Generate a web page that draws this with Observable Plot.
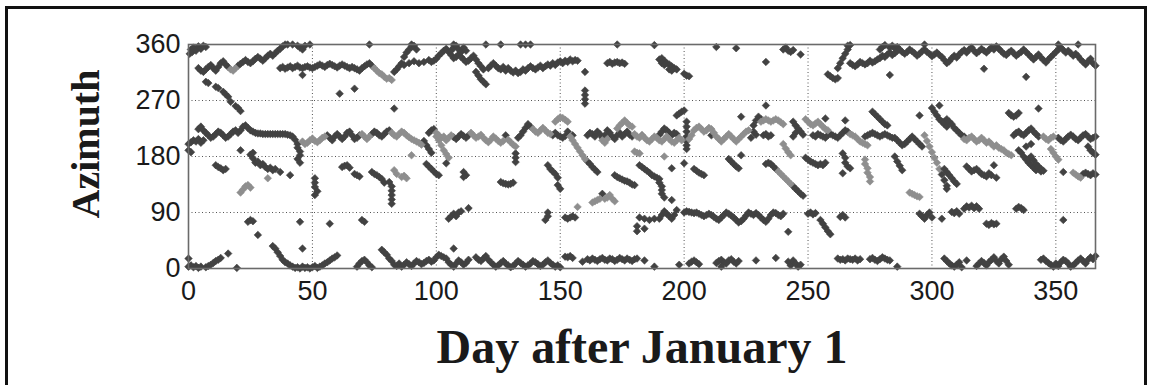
<!DOCTYPE html>
<html>
<head>
<meta charset="utf-8">
<script src="https://cdn.jsdelivr.net/npm/d3@7"></script>
<script src="https://cdn.jsdelivr.net/npm/@observablehq/plot@0.6"></script>
<style>
  html, body { margin: 0; padding: 0; background: #fff; }
  #wrap { position: relative; width: 1151px; height: 385px; overflow: hidden; }
  #border { position: absolute; left: 5px; top: 6px; width: 1142px; height: 420px; border: 3px solid #111; box-sizing: border-box; }
  #chart { position: absolute; left: 0; top: 0; }
  #ylab { position: absolute; left: 86px; top: 144px; transform: translate(-50%, -50%) rotate(-90deg);
          font: bold 40px "Liberation Serif", "Times New Roman", serif; color: #1a1a1a; line-height: 1; white-space: nowrap; }
</style>
</head>
<body>
<div id="wrap"><div id="border"></div><div id="chart"></div><div id="ylab"></div></div>
<script>
// ---- data: [day after January 1, azimuth in degrees] ----
const xTicks = [0, 50, 100, 150, 200, 250, 300, 350];
const yTicks = [0, 90, 180, 270, 360];
const xLabel = "Day after January 1";
const yLabel = "Azimuth";

const upperDark = [
  [0.5,345],[1,352],[1.5,348],[2,355],[3,350],[4,357],[5,353],[6,358],[7,356],
  [4,322],[5,318],[6,316],[7,320],[8,324],[9,327],[10,322],[11,318],[12,324],[13,330],[14,333],[15,328],[16,324],
  [20,326],[21,329],[22,332],[23,335],[24,332],[25,330],[26,333],[27,337],[28,340],[29,337],[30,334],[31,338],[32,342],[33,345],[34,342],
  [35,346],[36,350],[37,353],[38,357],[39,360],[40,360],[42,360],[44,358],[45,355],[46,352],[47,358],[49,360],
  [37,322],[38,324],[39,321],[40,323],[41,325],[42,322],[43,324],[44,326],[45,323],[46,322],[47,324],[48,325],[49,323],[50,322],
  [51,324],[52,326],[53,328],[54,326],[55,324],[56,327],[57,329],[58,327],[59,325],[60,323],[61,326],[62,328],[63,326],[64,324],
  [65,322],[66,324],[67,322],[68,320],[69,318],[70,322],[71,325],[72,328],[73,330],[74,326],[46,311],
  [7,300],[8,298],[11,292],[12,290],[14,284],[15,280],[16,276],[17,268],[19,261],[20,258],[21,253],
  [61,281],[67,289],[83,257],[73,360],[90,360],[107,360],
  [83,316],[84,320],[85,325],[86,330],[87,340],[88,347],[89,352],[90,356],[91,358],[92,352],
  [87,327],[89,330],[91,333],[93,330],[95,332],[97,335],[98,332],[99,334],[100,337],[101,342],[102,346],[103,350],[104,353],
  [105,348],[106,343],[107,338],[108,340],[109,344],[110,340],[111,336],[112,332],[113,334],[114,338],[115,342],[116,336],
  [117,330],[118,325],[119,320],[116,316],[117,310],[118,304],[119,300],[120,296],
  [106,350],[107,355],[108,358],[109,352],[110,348],[111,355],[112,350],
  [121,322],[122,326],[123,330],[124,326],[125,322],[126,320],[127,324],[128,318],[129,322],[130,318],[131,315],[132,318],
  [133,314],[134,316],[135,320],[136,318],[137,322],[138,325],[139,322],[140,320],[141,323],[142,326],[143,322],[144,325],
  [145,328],[146,326],[147,330],[148,327],[149,331],[150,333],[151,330],[152,334],[153,332],[154,336],[155,333],[156,335],[157,334],
  [120,360],[126,360],[134,360],[136,360],[138,360],
  [160,316],[169,330],[170,332],[171,329],[172,331],[173,332],[174,330],[175,331],[176,329],[173,360],
  [160,265],[160,272],[160,279],[160,286],
  [188,359],[190,336],[191,338],[192,334],[193,330],[194,328],[195,325],[196,322],[197,320],[191,330],[192,327],[194,320],[195,318],
  [200,313],[201,310],[202,309],[213,356],[221,354],[233,332],
  [240,352],[241,355],[242,350],[243,348],[244,351],[247,344],
  [258,312],[259,309],[260,306],[261,304],[262,306],[262,322],[263,330],[264,338],[265,345],[266,352],[266,358],
  [267,330],[268,327],[269,325],[270,328],[271,332],[272,330],[273,328],[274,330],[275,334],[276,331],[277,333],[278,336],
  [279,338],[280,342],[281,340],[282,344],[283,347],[284,343],[285,346],[286,350],[267,359],[279,352],[280,356],[281,359],
  [283,355],[284,358],[285,354],[286,356],[287,352],[288,348],[289,345],[290,348],[291,352],[292,349],[293,346],[294,342],
  [295,345],[296,349],[297,352],[298,348],[299,345],[300,341],[301,344],[302,347],[303,343],[304,340],[297,360],[283,311],
  [305,335],[306,330],[307,333],[308,338],[309,342],[310,339],[311,344],[312,348],[313,351],[314,347],[315,352],[316,355],
  [317,350],[318,346],[319,349],[320,353],[321,350],[322,347],[323,351],[324,355],[325,352],[326,357],[327,353],[328,349],
  [329,345],[330,343],[331,347],[332,350],[333,346],[334,342],[335,345],[336,348],[337,352],[338,348],[339,344],[340,340],
  [341,336],[342,340],[343,344],[344,339],[345,335],[346,331],[347,336],[348,340],[349,344],[350,348],[351,352],[352,355],
  [353,351],[354,347],[355,350],[356,346],[357,342],[358,345],[359,341],[360,336],[361,332],[362,328],[363,333],[364,337],
  [365,330],[366,326],[321,321],[338,308],[351,360],[359,360]
];
const upperLight = [
  [17,320],[18,318],[19,322],
  [75,322],[76,318],[77,314],[78,312],[79,308],[80,305],[81,306],[82,303]
];

const middleDark = [
  [0,200],[1,203],[2,206],[3,204],[4,208],[5,202],[6,206],[0,190],[1,187],
  [4,224],[5,228],[6,222],[7,218],[8,214],[9,210],[10,212],[11,216],[12,220],[13,218],[14,214],[15,210],[16,212],[17,216],
  [18,220],[19,222],[20,218],[21,222],[22,228],[23,230],[24,226],[25,222],[26,220],[27,218],[28,217],[29,217],[30,216],
  [31,216],[32,216],[33,216],[34,216],[35,216],[36,216],[37,216],[38,216],[39,216],[40,215],[41,214],[42,212],[43,207],
  [44,200],[44,194],[45,188],[45,182],[44,176],[45,170],
  [56,214],[57,210],[58,206],[59,212],[60,216],[61,212],[62,208],[63,212],[64,218],[65,220],[66,214],[67,208],[68,210],[69,214],
  [74,216],[75,220],[76,218],[77,214],[78,212],[79,216],[80,220],[81,222],
  [95,205],[96,198],[97,192],[98,186],[97,218],[98,222],[99,224],
  [107,211],[108,208],[109,212],[110,216],[111,213],[112,210],[113,214],[128,214],[132,185],[132,178],[132,171],
  [133,210],[134,214],[135,220],[136,226],[137,232],[138,228],[147,214],[148,218],[149,214],[150,212],[151,210],[152,213],
  [161,172],[162,168],[163,163],[164,159],[165,155],[153,220],[155,214],
  [161,214],[162,218],[163,216],[164,212],[165,220],[166,216],[167,210],[168,214],[169,222],[170,218],[171,212],[172,208],
  [173,214],[174,218],[175,212],[176,216],[177,220],[178,215],[179,212],[183,214],
  [190,215],[191,220],[192,225],[193,222],[194,218],[195,214],[196,218],[197,216],
  [197,246],[198,249],[199,252],[200,254],[201,236],[201,228],[201,220],[201,212],[201,205],[201,198],[201,192],
  [211,214],[223,244],[227,210],[228,220],[228,230],[229,238],[230,244],[231,240],[229,215],
  [232,214],[233,216],[234,212],[235,214],[233,262],
  [244,236],[245,230],[246,225],[247,220],[248,215],[244,212],[245,218],[257,241],
  [252,214],[253,212],[254,216],[255,214],[256,212],[257,210],[258,214],[259,216],[260,214],[261,212],[262,210],[265,238],
  [263,214],[264,218],[265,222],[266,220],
  [273,212],[274,214],[275,216],[276,218],[277,216],[278,214],[279,212],[280,214],[281,216],[282,214],[283,212],[284,210],
  [276,252],[277,248],[278,244],[279,240],[280,236],[281,232],[282,230],
  [285,210],[286,206],[287,202],[288,198],[289,200],[290,204],[291,208],[292,212],[293,208],[294,204],[295,200],[296,196],
  [295,246],[300,258],[301,252],[302,246],[303,240],[304,236],[305,232],[306,228],[303,262],
  [305,236],[306,240],[307,236],[308,232],[309,226],[310,222],[311,218],[312,214],[313,212],
  [331,250],[332,246],[333,244],[334,246],[335,250],[343,257],
  [333,214],[334,218],[335,220],[336,216],[337,214],[338,218],[339,222],[340,225],[341,220],[342,216],[343,212],
  [335,190],[336,186],[337,180],[338,175],[339,170],[340,166],[341,162],[342,158],[343,160],[344,156],[338,196],[340,200],
  [339,176],[340,180],[341,174],[342,168],[343,164],[344,160],[345,157],
  [351,210],[352,206],[353,204],[354,208],[355,212],[356,215],[357,212],[358,208],[359,206],[360,210],[361,214],[362,216],
  [363,212],[364,208],[365,210],[366,212],[363,196],[364,190],[365,186],[366,183]
];
const middleLight = [
  [46,204],[47,200],[48,202],[49,206],[50,209],[51,205],[52,203],[53,206],[54,210],[55,212],
  [70,216],[71,212],[72,208],[73,212],
  [82,218],[83,214],[84,212],[85,216],[86,220],[87,218],[88,214],[89,211],[90,208],[91,206],[92,204],[93,202],[94,199],[90,182],
  [100,212],[101,206],[102,198],[103,190],[104,184],[105,178],[100,218],[101,214],[102,210],[103,212],
  [104,206],[105,210],[106,214],[114,218],[115,214],[116,210],[117,212],[118,215],[119,210],[120,206],[121,203],[122,207],
  [123,212],[124,209],[125,205],[126,202],[127,205],[129,207],[130,203],[131,199],[132,196],
  [139,224],[140,220],[141,218],[142,222],[143,226],[144,222],[145,218],[146,216],
  [148,236],[149,240],[150,243],[151,242],[152,239],[153,236],
  [154,212],[155,206],[156,200],[157,194],[158,188],[159,182],[160,176],
  [167,206],[168,202],[169,208],[173,225],[174,230],[175,234],[176,238],[177,234],[178,230],[179,228],[180,216],[181,212],
  [182,210],[180,188],[181,186],[182,185],
  [183,214],[184,210],[185,206],[186,204],[187,208],[188,212],[189,210],[190,206],[191,204],[192,208],[193,212],[194,208],
  [195,204],[196,202],[197,206],[198,210],[199,206],
  [202,208],[203,214],[204,222],[205,226],[206,228],[207,224],[208,220],[209,222],[210,226],[211,224],[212,218],[213,212],
  [214,208],[215,204],[216,208],[217,212],[218,216],[219,212],[220,208],[221,204],[222,208],[223,212],[224,216],[225,220],[226,222],
  [231,236],[232,238],[233,240],[234,238],[235,236],[236,238],[237,240],[238,238],[239,235],[240,232],
  [240,200],[241,193],[242,187],[243,182],
  [249,240],[250,236],[251,232],[252,230],[253,233],[254,236],[255,232],[256,228],[257,224],[258,222],
  [267,216],[268,214],[269,212],[270,208],[271,204],[272,202],[273,200],[274,198],
  [297,214],[298,205],[299,196],[300,187],[301,178],[302,170],[303,160],
  [313,208],[314,206],[315,210],[316,212],[317,208],[318,204],[319,206],[320,210],[321,206],[322,202],[323,204],[324,200],
  [325,196],[326,198],[327,194],[328,192],[329,190],[330,186],[331,184],[332,182],
  [345,212],[346,208],[347,206],[348,210],[349,212],[348,192],[349,186],[350,180],[351,175]
];

const lowerDark = [
  [11,166],[12,163],[13,161],[14,158],[15,160],[21,190],
  [25,183],[26,177],[27,170],[28,172],[29,166],[30,168],[31,163],[32,160],[33,162],[34,158],[35,160],[26,186],
  [37,155],[41,150],[51,145],[51,138],[51,131],[52,124],[51,118],
  [62,163],[63,165],[64,166],[65,162],[67,152],[68,150],[69,148],
  [74,155],[75,152],[76,150],[77,147],[78,144],[79,138],
  [81,139],[82,132],[82,125],[82,118],[82,111],[82,104],
  [96,168],[97,164],[98,160],[99,156],[100,152],[101,150],[104,169],[111,155],[112,150],[111,147],
  [126,139],[127,137],[128,136],[129,135],[130,136],[131,138],
  [145,166],[146,160],[147,156],[148,152],[149,134],[150,128],[149,146],
  [172,150],[173,147],[174,145],[175,143],[176,141],[177,140],[178,138],[179,135],[180,134],[167,120],
  [182,166],[183,163],[184,160],[185,157],[186,154],[187,150],[188,148],[189,146],[190,144],
  [190,138],[191,132],[191,126],[191,120],[192,114],
  [195,161],[200,169],[204,160],[205,157],[206,154],[207,152],[208,150],
  [218,176],[219,172],[220,168],[221,164],[222,161],[223,182],
  [233,168],[234,170],[235,168],[236,164],[237,160],
  [244,132],[245,128],[246,124],[247,120],[248,117],
  [249,178],[250,175],[251,172],[252,170],[253,168],[254,166],[255,168],[256,166],[257,170],
  [264,185],[265,178],[265,170],[266,164],[267,161],[264,153],
  [285,180],[286,172],[287,165],[288,158],
  [304,151],[305,142],[306,133],[306,128],
  [305,160],[306,155],[307,150],[308,145],[309,140],[310,136],
  [314,164],[315,160],[316,156],[317,158],[318,160],[319,156],[320,152],[321,150],[322,148],[325,166],[323,153],[324,150],[326,146],
  [353,155],[361,152],[362,154],[363,152],[364,150],[365,153],[366,151]
];
const lowerLight = [
  [32,145],[21,122],[22,127],[23,132],[24,134],[25,130],
  [83,158],[84,152],[86,147],[87,149],[88,145],
  [163,106],[164,108],[165,110],[166,112],[168,112],[169,114],[170,118],[171,112],[172,108],[157,99],
  [192,180],[238,156],[239,152],[240,148],[241,144],[242,140],[243,136],
  [273,175],[273,168],[274,161],[274,154],[275,147],[275,140],
  [291,122],[292,120],[293,118],[294,116],[295,115],
  [357,154],[358,151],[359,148],[360,146]
];

const bottomDark = [
  [45,75],[57,72],[24,75],[25,78],[26,76],[28,54],[70,78],[71,75],
  [105,80],[106,84],[107,88],[108,84],[109,90],[110,92],[113,97],
  [144,78],[145,84],[145,90],[152,82],[153,80],[154,82],[155,84],[156,82],
  [181,60],[181,68],[182,82],[184,80],[186,78],[188,80],[184,64],
  [190,80],[191,86],[192,92],[193,88],[194,84],[195,80],[196,86],[197,94],[195,110],
  [200,90],[201,92],[202,91],[203,90],[204,89],[205,90],[206,88],[207,86],[208,84],[209,86],[210,88],[211,86],[212,83],
  [213,80],[214,78],[215,82],[216,86],[217,90],[218,88],[219,85],[220,82],[221,78],[222,74],[223,76],[224,80],[225,85],
  [226,90],[227,88],[228,86],[229,89],[230,86],[231,82],[232,78],[233,75],[234,80],[235,86],[236,90],[237,89],[238,86],
  [239,84],[240,88],[242,59],
  [250,88],[251,90],[252,87],[253,89],[255,78],[256,72],[257,66],[258,60],[259,55],[263,83],[264,86],[265,82],
  [295,88],[296,84],[297,80],[298,86],[299,90],[300,82],[304,80],
  [308,91],[309,89],[310,92],[311,88],[313,96],[314,100],[315,98],[316,101],[317,97],[318,100],[319,96],
  [322,72],[323,70],[324,73],[325,71],[326,72],[334,96],[335,99],[336,97],[337,94],[353,78],
  [0,3],[1,5],[2,2],[3,4],[4,1],[5,3],[0,16],[7,2],[8,4],[9,6],[10,9],[11,12],[12,14],[13,17],[16,24],[19.5,1],
  [34,36],[35,32],[36,26],[37,20],[38,14],[39,10],[40,8],[41,5],[42,3],[43,1],[44,2],[45,0],[46,3],[47,1],[48,2],[49,0],
  [50,2],[51,4],[52,1],[53,3],[54,5],[55,8],[56,10],[57,13],[58,16],[59,18],[46,32],[60,21],
  [68,3],[69,8],[70,12],[71,14],[72,10],[73,5],[74,2],
  [78,30],[79,26],[80,22],[81,16],[82,12],[83,6],[84,4],[85,8],[86,3],[87,6],[88,10],[89,7],[90,4],[91,8],[92,12],[93,10],
  [94,7],[95,9],[96,12],[97,14],[98,11],[99,13],[100,18],[101,22],[102,20],[103,18],[104,16],[105,10],[106,6],[107,3],
  [108,8],[109,13],[110,10],[111,6],[112,9],[113,14],[107,32],
  [116,18],[117,14],[118,12],[119,16],[120,20],[121,14],[122,10],[123,6],[124,3],[125,5],[126,9],[127,12],[128,8],[129,5],
  [130,2],[131,4],[132,8],[133,12],[134,9],[135,6],[136,3],[137,5],[138,8],[139,12],[140,10],[141,7],[142,4],[143,6],
  [144,10],[145,13],[146,9],[147,6],[148,3],[149,5],[150,2],
  [152,19],[153,18],[154,20],[155,17],[159,11],
  [161,15],[162,13],[163,16],[164,14],[165,12],[166,15],[167,17],[168,14],[169,13],[170,16],[171,15],[172,12],[173,14],
  [174,17],[175,15],[176,13],[177,16],[178,14],[179,12],[180,15],[181,16],
  [184,13],[188,3],[198,6],[202,8],[203,11],[204,13],[205,10],[206,7],
  [213,9],[214,12],[215,14],[216,10],[217,8],[218,13],[219,15],[220,11],[221,8],[222,12],[215,3],
  [229,13],[237,17],[242,11],[243,5],[244,13],[245,8],[246,3],[247,6],
  [262,16],[263,14],[264,15],[265,13],[266,16],[267,15],[268,14],[269,16],[270,13],[271,15],
  [275,15],[276,17],[277,14],[278,12],[279,15],[280,18],[281,16],[282,14],[283,13],[286,3],
  [305,16],[306,12],[307,8],[308,5],[309,3],[310,6],[311,10],[312,2],[314,13],
  [318,4],[319,8],[320,12],[321,9],[322,5],[323,10],[324,14],[325,18],[326,12],[327,8],[328,15],[329,19],[330,12],[331,6],
  [344,14],[345,16],[346,12],[347,9],[348,6],[349,3],[350,8],[351,4],[352,10],[353,14],[354,12],[355,8],[356,3],[357,5],
  [358,9],[359,13],[360,16],[361,12],[362,8],[363,14],[364,18],[365,15],[366,20]
];

// ---- drawing ----
const dark = "#424242";
const light = "#8e8e8e";
const pt = (data, fill) => Plot.dot(data, {
  x: d => d[0], y: d => d[1], symbol: "diamond2", r: 3.4, fill, stroke: fill, strokeWidth: 0.6
});

const chart = Plot.plot({
  width: 1151,
  height: 385,
  marginLeft: 188,
  marginRight: 56,
  marginTop: 44,
  marginBottom: 117,
  style: { background: "transparent", color: "#1a1a1a" },
  x: { domain: [0, 366] },
  y: { domain: [0, 360] },
  marks: [
    Plot.gridX(xTicks.filter(t => t > 0), { stroke: "#555", strokeOpacity: 1, strokeDasharray: "1,2.5" }),
    Plot.gridY(yTicks.filter(t => t > 0 && t < 360), { stroke: "#555", strokeOpacity: 1, strokeDasharray: "1,2.5" }),
    pt(upperDark, dark), pt(upperLight, light),
    pt(middleDark, dark), pt(middleLight, light),
    pt(lowerDark, dark), pt(lowerLight, light),
    pt(bottomDark, dark),
    Plot.frame({ stroke: "#6a6a6a", strokeWidth: 1.6 }),
    Plot.axisY({ ticks: yTicks, tickSize: 0, tickPadding: 8, fontSize: 27, fontFamily: "Liberation Sans, Arial, sans-serif", label: null }),
    Plot.axisX({ ticks: xTicks, tickSize: 0, tickPadding: 12, fontSize: 27, fontFamily: "Liberation Sans, Arial, sans-serif", label: null }),
    Plot.text([xLabel], { text: d => d, frameAnchor: "bottom", dy: 94, fontSize: 48, fontWeight: "bold", fontFamily: "Liberation Serif, Times New Roman, serif", fill: "#1a1a1a", letterSpacing: "1.5px" })
  ]
});
document.getElementById("chart").appendChild(chart);
document.getElementById("ylab").textContent = yLabel;
</script>
</body>
</html>
